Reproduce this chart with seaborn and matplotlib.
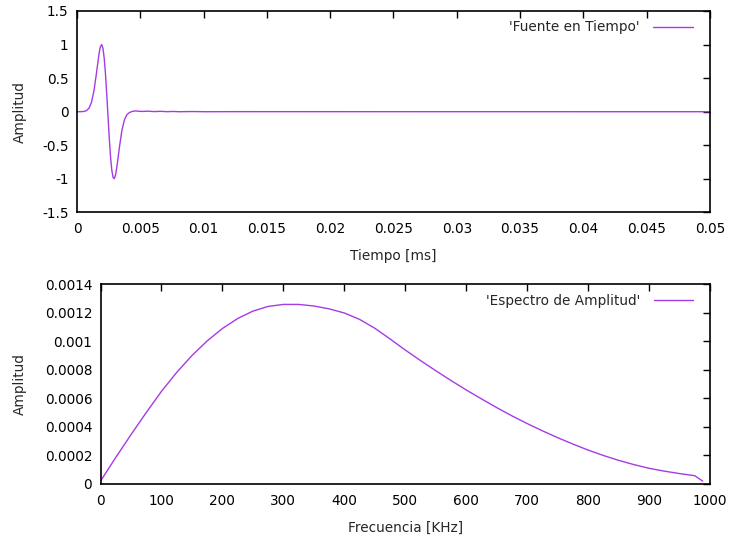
import matplotlib
matplotlib.use("Agg")
import matplotlib.pyplot as plt
import seaborn as sns
import pandas as pd
from matplotlib.ticker import FixedLocator, FixedFormatter

# ---------------- data ----------------
time_ms = [0, 0.00035, 0.00055, 0.00075, 0.00095, 0.00115, 0.00135, 0.00155,
           0.00175, 0.00185, 0.00195, 0.00205, 0.00215, 0.00225, 0.00235,
           0.00245, 0.00255, 0.00265, 0.00275, 0.00285, 0.00295, 0.00305,
           0.00315, 0.00325, 0.00335, 0.00355, 0.00375, 0.00395, 0.00415,
           0.00435, 0.0046, 0.0051, 0.0056, 0.0061, 0.0066, 0.0071, 0.0076,
           0.0081, 0.0091, 0.0101, 0.0121, 0.05]
amp_time = [0.0, 0.001, 0.004, 0.016, 0.052, 0.142, 0.320, 0.590, 0.874,
            0.968, 1.0, 0.947, 0.80, 0.566, 0.265, -0.067, -0.392,
            -0.669, -0.870, -0.979, -0.996, -0.937, -0.823, -0.680, -0.531,
            -0.276, -0.118, -0.042, -0.012, 0.004, 0.012, 0.004, 0.008,
            0.002, 0.006, 0.001, 0.004, 0.0, 0.003, 0.0, 0.001, 0.0]

freq_khz = [0, 25, 50, 75, 100, 125, 150, 175, 200, 225, 250, 275, 300, 325,
            350, 375, 400, 425, 450, 475, 500, 525, 550, 575, 600, 625, 650,
            675, 700, 725, 750, 775, 800, 825, 850, 875, 900, 925, 950, 975,
            988]
amp_spec = [0.00002, 0.000186, 0.000346, 0.000501, 0.00065, 0.000783,
            0.000901, 0.001004, 0.001091, 0.001161, 0.001213, 0.001246,
            0.00126, 0.00126, 0.001249, 0.001229, 0.0012, 0.001155,
            0.001093, 0.001018, 0.00094, 0.000866, 0.000795, 0.000726,
            0.00066, 0.000597, 0.000536, 0.000478, 0.000424, 0.000373,
            0.000325, 0.00028, 0.000238, 0.0002, 0.000166, 0.000136,
            0.00011, 0.00009, 0.000073, 0.000058, 0.00002]

top_xticks = [0, 0.005, 0.01, 0.015, 0.02, 0.025, 0.03, 0.035, 0.04, 0.045, 0.05]
top_xlabels = ["0", "0.005", "0.01", "0.015", "0.02", "0.025", "0.03",
               "0.035", "0.04", "0.045", "0.05"]
top_yticks = [-1.5, -1, -0.5, 0, 0.5, 1, 1.5]
top_ylabels = ["-1.5", "-1", "-0.5", "0", "0.5", "1", "1.5"]
bot_xticks = [0, 100, 200, 300, 400, 500, 600, 700, 800, 900, 1000]
bot_xlabels = ["0", "100", "200", "300", "400", "500", "600", "700", "800",
               "900", "1000"]
bot_yticks = [0, 0.0002, 0.0004, 0.0006, 0.0008, 0.001, 0.0012, 0.0014]
bot_ylabels = ["0", "0.0002", "0.0004", "0.0006", "0.0008", "0.001",
               "0.0012", "0.0014"]

# ---------------- style ----------------
sns.set_style("white")
plt.rcParams["font.family"] = ["DejaVu Sans"]
FS = 9.8
color = "#a63be3"

fig = plt.figure(figsize=(7.31, 5.43), dpi=100)
ax1 = fig.add_axes([0.1053, 0.6087, 0.866, 0.3711])
ax2 = fig.add_axes([0.1375, 0.1087, 0.8338, 0.3674])

df1 = pd.DataFrame({"t": time_ms, "a": amp_time})
df2 = pd.DataFrame({"f": freq_khz, "a": amp_spec})

sns.lineplot(data=df1, x="t", y="a", ax=ax1, color=color, linewidth=1.0,
             label="'Fuente en Tiempo'")
sns.lineplot(data=df2, x="f", y="a", ax=ax2, color=color, linewidth=1.0,
             label="'Espectro de Amplitud'")


def style(ax, xt, xl, yt, yl, xlim, ylim, xlab, ylab, ylab_x, xlab_y, lx):
    ax.set_xlim(*xlim)
    ax.set_ylim(*ylim)
    ax.xaxis.set_major_locator(FixedLocator(xt))
    ax.xaxis.set_major_formatter(FixedFormatter(xl))
    ax.yaxis.set_major_locator(FixedLocator(yt))
    ax.yaxis.set_major_formatter(FixedFormatter(yl))
    ax.tick_params(direction="in", length=5, width=1, top=True, right=True,
                   colors="black", labelsize=FS)
    ax.tick_params(axis="x", pad=7)
    ax.tick_params(axis="y", pad=6)
    for s in ax.spines.values():
        s.set_visible(True)
        s.set_color("black")
        s.set_linewidth(1.2)
    ax.set_xlabel(xlab, fontsize=FS)
    ax.set_ylabel(ylab, fontsize=FS)
    ax.yaxis.set_label_coords(ylab_x, 0.5)
    ax.xaxis.set_label_coords(0.5, xlab_y)
    ax.grid(False)
    ax.legend(loc="upper right", frameon=False, markerfirst=False,
              handlelength=2.9, handletextpad=1.0, borderaxespad=0.3,
              fontsize=FS, bbox_to_anchor=(lx, 1.0))


style(ax1, top_xticks, top_xlabels, top_yticks, top_ylabels,
      (0, 0.05), (-1.5, 1.5), "Tiempo [ms]", "Amplitud", -0.079, -0.181, 0.988)
style(ax2, bot_xticks, bot_xlabels, bot_yticks, bot_ylabels,
      (0, 1000), (0, 0.0014), "Frecuencia [KHz]", "Amplitud", -0.1206, -0.185,
      0.988)

fig.savefig("out.png", dpi=100)
